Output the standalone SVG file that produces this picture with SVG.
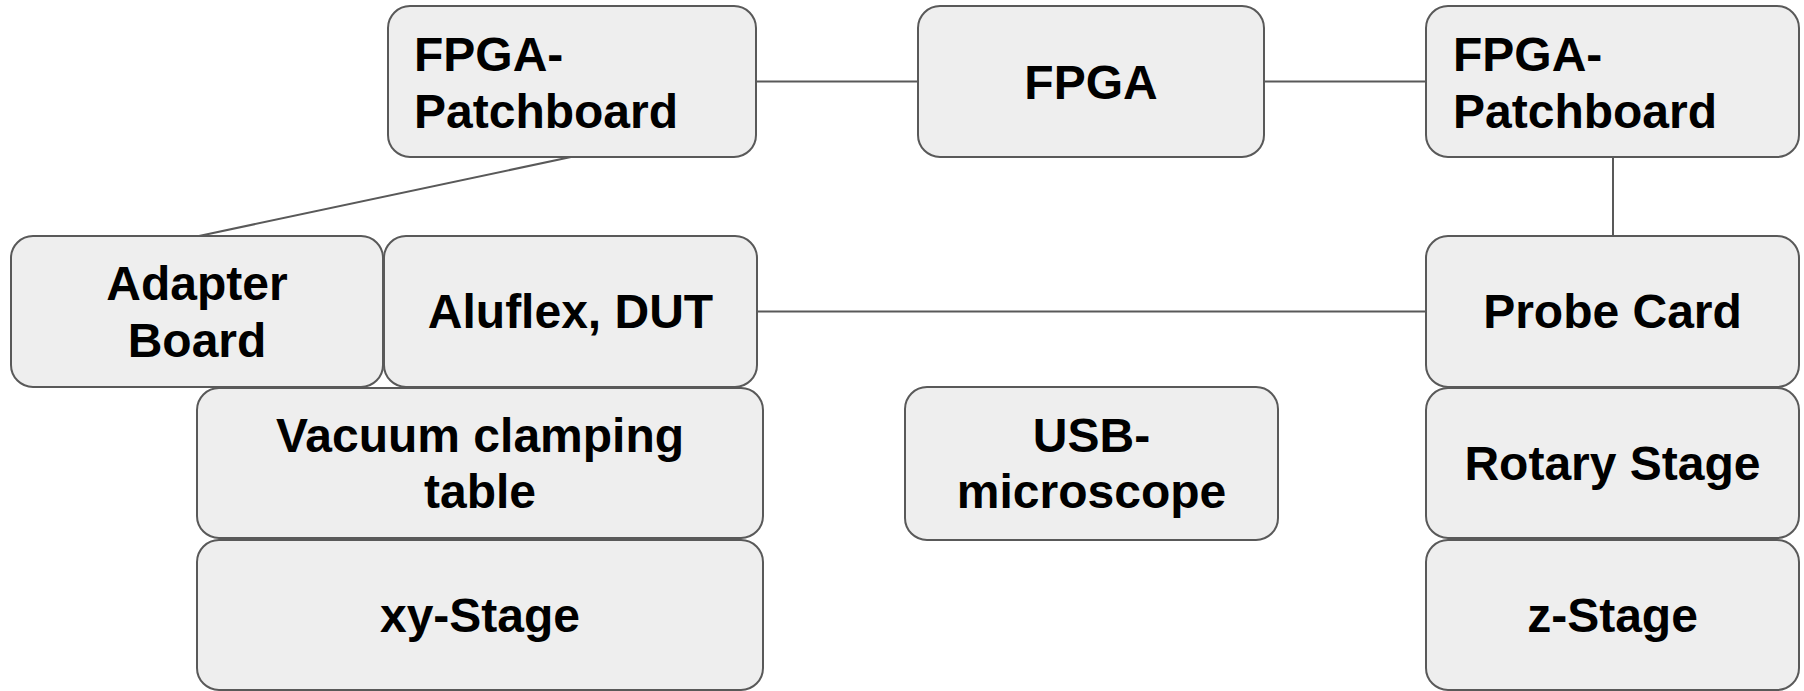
<svg xmlns="http://www.w3.org/2000/svg" width="1804" height="691" viewBox="0 0 1804 691">
<style>
.box{fill:#eeeeee;stroke:#595959;stroke-width:2}
.t{font-family:"Liberation Sans",Arial,sans-serif;font-weight:bold;font-size:48px;fill:#000}
.c{text-anchor:middle}
.conn line{stroke:#595959;stroke-width:2}
</style>
<rect width="1804" height="691" fill="#ffffff"/>
<g id="connectors" class="conn">
<line x1="756" y1="81.5" x2="918" y2="81.5"/>
<line x1="1264" y1="81.5" x2="1426" y2="81.5"/>
<line x1="1613" y1="157" x2="1613" y2="236"/>
<line x1="571" y1="157" x2="199" y2="236"/>
<line x1="757" y1="311.5" x2="1426" y2="311.5"/>
</g>
<g id="patchboard-left"><rect class="box" x="388" y="6" width="368" height="151" rx="22"/><text class="t" x="414" y="71">FPGA-</text><text class="t" x="414" y="128">Patchboard</text></g>
<g id="fpga"><rect class="box" x="918" y="6" width="346" height="151" rx="22"/><text class="t c" x="1091" y="98.5">FPGA</text></g>
<g id="patchboard-right"><rect class="box" x="1426" y="6" width="373" height="151" rx="22"/><text class="t" x="1453" y="71">FPGA-</text><text class="t" x="1453" y="128">Patchboard</text></g>
<g id="adapter-board"><rect class="box" x="11" y="236" width="372" height="151" rx="22"/><text class="t c" x="197" y="300">Adapter</text><text class="t c" x="197" y="357">Board</text></g>
<g id="aluflex-dut"><rect class="box" x="384" y="236" width="373" height="151" rx="22"/><text class="t c" x="570.5" y="328">Aluflex, DUT</text></g>
<g id="probe-card"><rect class="box" x="1426" y="236" width="373" height="151" rx="22"/><text class="t c" x="1612.5" y="328">Probe Card</text></g>
<g id="vacuum-table"><rect class="box" x="197" y="388" width="566" height="150" rx="22"/><text class="t c" x="480" y="452">Vacuum clamping</text><text class="t c" x="480" y="508">table</text></g>
<g id="usb-microscope"><rect class="box" x="905" y="387" width="373" height="153" rx="22"/><text class="t c" x="1091.5" y="452">USB-</text><text class="t c" x="1091.5" y="508">microscope</text></g>
<g id="rotary-stage"><rect class="box" x="1426" y="388" width="373" height="150" rx="22"/><text class="t c" x="1612.5" y="480">Rotary Stage</text></g>
<g id="xy-stage"><rect class="box" x="197" y="540" width="566" height="150" rx="22"/><text class="t c" x="480" y="632">xy-Stage</text></g>
<g id="z-stage"><rect class="box" x="1426" y="540" width="373" height="150" rx="22"/><text class="t c" x="1612.5" y="632">z-Stage</text></g>
</svg>
